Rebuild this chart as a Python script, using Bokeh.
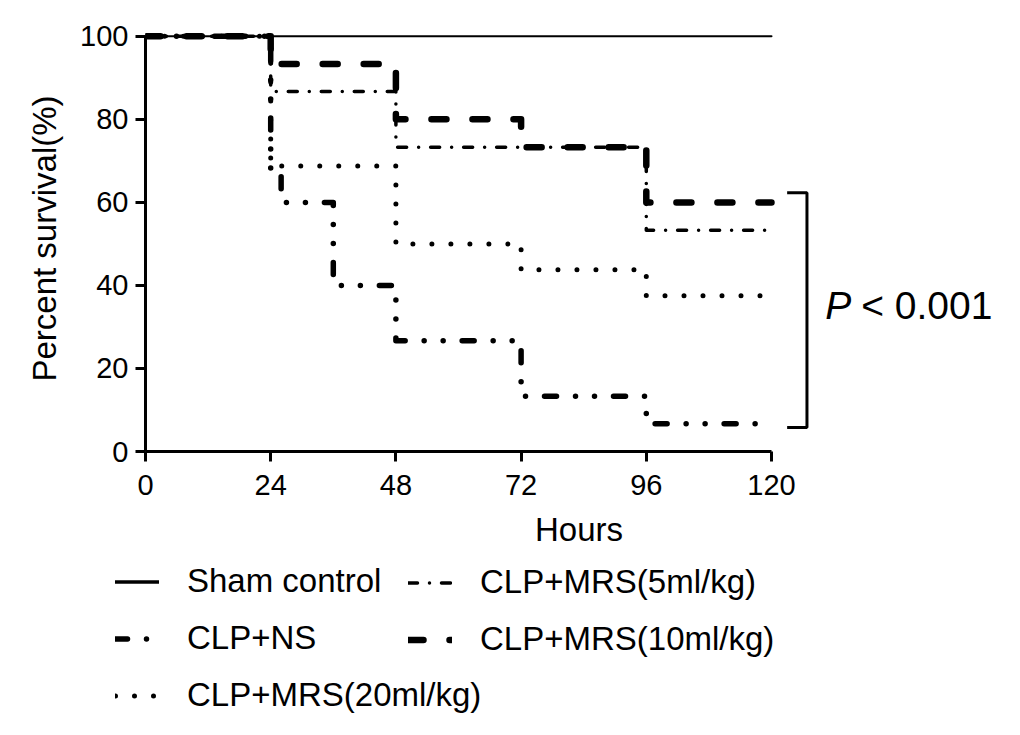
from bokeh.plotting import figure
from bokeh.models import Range1d, FixedTicker, Legend, LegendItem
from bokeh.layouts import column
from bokeh.core.properties import value
from bokeh.embed import file_html
from bokeh.resources import INLINE

# ---- data (hours, percent survival) ----
hour_ticks = [0, 24, 48, 72, 96, 120]
pct_ticks = [0, 20, 40, 60, 80, 100]

sham_t = [0, 120]
sham_s = [100, 100]

ns_t = [0, 24, 26, 36, 48, 72, 96, 120]
ns_s = [100, 66.7, 60, 40, 26.7, 13.3, 6.7, 6.7]

mrs5_t = [0, 24, 48, 96, 120]
mrs5_s = [100, 86.7, 73.3, 53.3, 53.3]

mrs10_t = [0, 24, 48, 72, 96, 120]
mrs10_s = [100, 93.3, 80, 73.3, 60, 60]

mrs20_t = [0, 24, 48, 72, 96, 120]
mrs20_s = [100, 68.75, 50, 43.75, 37.5, 37.5]

labels = ["Sham control", "CLP+NS", "CLP+MRS(20ml/kg)", "CLP+MRS(5ml/kg)", "CLP+MRS(10ml/kg)"]
p_text = "P"
p_rest = "< 0.001"

FONT = "Liberation Sans"

SERIES = {
    "sham": (sham_t, sham_s),
    "ns": (ns_t, ns_s),
    "mrs5": (mrs5_t, mrs5_s),
    "mrs10": (mrs10_t, mrs10_s),
    "mrs20": (mrs20_t, mrs20_s),
}
STYLES = {
    "sham": dict(line_width=2),
    "ns": dict(line_width=5.5, line_dash="12 19 0 19 0 19"),
    "mrs5": dict(line_width=3.5, line_dash="9 12 0 12"),
    "mrs10": dict(line_width=6.5, line_dash="15 26"),
    "mrs20": dict(line_width=5, line_dash="0 19"),
}
LEGEND_STYLES = dict(STYLES, sham=dict(line_width=3.5))
common = dict(mode="after", line_color="black", line_cap="round", line_join="round")

p = figure(
    frame_width=867, frame_height=426,
    x_range=Range1d(0, 166.2), y_range=Range1d(0, 102.6),
    output_backend="svg", toolbar_location=None,
    min_border_left=145, min_border_top=25, min_border_right=0, min_border_bottom=100,
)
p.outline_line_color = None
p.xgrid.visible = False
p.ygrid.visible = False
p.background_fill_color = "white"
p.border_fill_color = "white"

for ax in (p.xaxis[0], p.yaxis[0]):
    ax.axis_line_width = 3
    ax.axis_line_color = "black"
    ax.major_tick_line_width = 3
    ax.major_tick_line_color = "black"
    ax.major_tick_out = 10
    ax.major_tick_in = 0
    ax.minor_tick_line_color = None
    ax.major_label_text_font = FONT
    ax.major_label_text_font_size = "29px"
    ax.major_label_text_color = "black"
    ax.axis_label_text_font = FONT
    ax.axis_label_text_font_size = "33px"
    ax.axis_label_text_font_style = "normal"
    ax.axis_label_text_color = "black"

p.xaxis[0].bounds = (0, 120)
p.yaxis[0].bounds = (0, 100)
p.xaxis[0].ticker = FixedTicker(ticks=hour_ticks)
p.yaxis[0].ticker = FixedTicker(ticks=pct_ticks)
p.xaxis[0].axis_label = "Hours"
p.yaxis[0].axis_label = "Percent survival(%)"
p.xaxis[0].major_label_standoff = 13
p.xaxis[0].axis_label_standoff = 13
p.yaxis[0].major_label_standoff = 7
p.yaxis[0].axis_label_standoff = 14

for k in ["mrs10", "ns", "mrs20", "mrs5", "sham"]:
    t, s = SERIES[k]
    p.step(t, s, **STYLES[k], **common)

# significance bracket
p.line([123, 126.8, 126.8, 123], [62.3, 62.3, 5.8, 5.8], line_color="black", line_width=3)
p.text(x=[130.3], y=[35.2], text=[p_text], text_font=value(FONT), text_font_style="italic",
       text_font_size="39px", text_baseline="middle", text_align="left", text_color="black")
p.text(x=[130.3], y=[35.2], text=[p_rest], text_font=value(FONT), x_offset=36,
       text_font_size="39px", text_baseline="middle", text_align="left", text_color="black")

# ---- legend panel below ----
LH = 179
q = figure(
    frame_width=1012, frame_height=LH,
    x_range=Range1d(0, 1012), y_range=Range1d(0, LH),
    x_axis_type=None, y_axis_type=None,
    output_backend="svg", toolbar_location=None,
    min_border=0,
)
q.outline_line_color = None
q.background_fill_color = "white"
q.border_fill_color = "white"
# renderers for legend glyphs only: mapped onto a range that keeps them out of view
q.extra_y_ranges = {"hidden": Range1d(1000, 2000)}
lr = {k: q.step(SERIES[k][0], SERIES[k][1], y_range_name="hidden", **LEGEND_STYLES[k], **common)
      for k in LEGEND_STYLES}

def make_legend(items, loc):
    lg = Legend(items=items, location=loc, orientation="vertical")
    lg.label_text_font = FONT
    lg.label_text_font_size = "33px"
    lg.label_text_color = "black"
    lg.glyph_width = 44
    lg.glyph_height = 37
    lg.label_height = 37
    lg.label_standoff = 28
    lg.spacing = 19
    lg.padding = 0
    lg.margin = 0
    lg.border_line_alpha = 0
    lg.background_fill_alpha = 0
    return lg

leg1 = make_legend([LegendItem(label=labels[0], renderers=[lr["sham"]]),
                    LegendItem(label=labels[1], renderers=[lr["ns"]]),
                    LegendItem(label=labels[2], renderers=[lr["mrs20"]])], (115, 16))
leg2 = make_legend([LegendItem(label=labels[3], renderers=[lr["mrs5"]]),
                    LegendItem(label=labels[4], renderers=[lr["mrs10"]])], (408, 72))
q.add_layout(leg1)
q.add_layout(leg2)

layout = column(p, q, spacing=0)
open("out.html", "w").write(file_html(layout, INLINE))
